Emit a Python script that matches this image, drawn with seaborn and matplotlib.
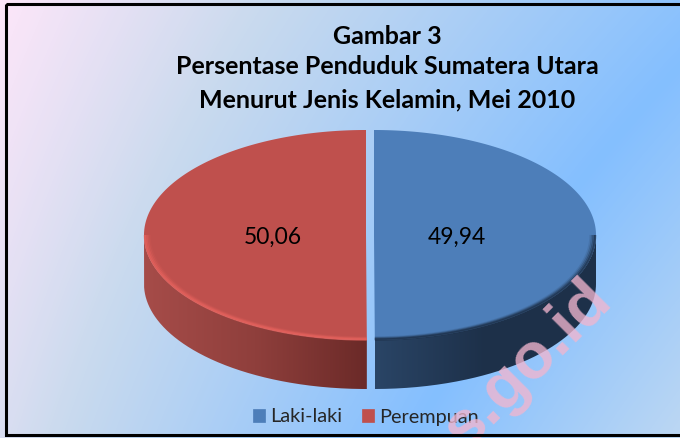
import numpy as np
import matplotlib
matplotlib.use('Agg')
import matplotlib.pyplot as plt
import seaborn as sns
from matplotlib.colors import LinearSegmentedColormap
from matplotlib.patches import Patch, PathPatch, Rectangle
from matplotlib.path import Path

# data
categories = ['Laki-laki', 'Perempuan']
shares = [49.94, 50.06]
title_lines = ['Gambar 3', 'Persentase Penduduk Sumatera Utara', 'Menurut Jenis Kelamin, Mei 2010']

sns.set_theme(style='white')
plt.rcParams['font.family'] = ['Lato', 'DejaVu Sans']

W, H = 680, 438
top_colors = ['#4d7eb9', '#bf504d']
wall_cmaps = [sns.blend_palette(['#2a4566', '#1d3049', '#1e314a'], as_cmap=True),
              sns.blend_palette(['#a64c49', '#8f3f3c', '#6b2a28'], as_cmap=True)]
centers = [374, 366]
cy, a, b, depth = 235, 222, 105, 49

fig = plt.figure(figsize=(W / 100, H / 100), dpi=100)
ax = fig.add_axes([0, 0, 1, 1])

# background gradient, pink corner -> blue band -> lighter corner
xx, yy = np.meshgrid(np.arange(W), np.arange(H))
t = 310 * xx + (128 + 132 * xx / 500) * yy
t = t / t.max()
bg = LinearSegmentedColormap.from_list('bg', [(0, '#fde6f9'), (0.237, '#c9daee'), (0.67, '#84bfff'), (1, '#bcd7f3')])
ax.imshow(t, cmap=bg, vmin=0, vmax=1, extent=[0, W, H, 0], aspect='auto', zorder=0)


def arc(cx, th, scale=1.0, dy=0):
    return cx + a * scale * np.sin(th), cy + dy - b * scale * np.cos(th)


ends = np.cumsum([0] + shares) / sum(shares) * 2 * np.pi
for i, val in enumerate(shares):
    cx = centers[i]
    th = np.linspace(ends[i], ends[i + 1], 300)

    # side wall, only the front part of the rim shows
    front = np.linspace(max(ends[i], np.pi / 2), min(ends[i + 1], 3 * np.pi / 2), 300)
    x1, y1 = arc(cx, front)
    x2, y2 = arc(cx, front[::-1], dy=depth)
    wall = PathPatch(Path(np.column_stack([np.r_[x1, x2], np.r_[y1, y2]])), fc='none', ec='none')
    ax.add_patch(wall)
    grad = np.linspace(0, 1, 256).reshape(1, -1)
    ax.imshow(grad, cmap=wall_cmaps[i], extent=[x1.min(), x1.max(), H, 0], aspect='auto',
              zorder=2, clip_path=wall)

    # top face
    x, y = arc(cx, th)
    ax.fill(np.r_[cx, x], np.r_[cy, y], color=top_colors[i], lw=0, zorder=3)

    # soft rim on the front edge
    rim = '#e5625d' if i == 1 else '#1d3049'
    for s, al in [(0.996, 0.75), (0.989, 0.5), (0.982, 0.28), (0.975, 0.12)]:
        xr, yr = arc(cx, front, scale=s)
        ax.plot(xr, yr, color=rim, alpha=al, lw=1.6, zorder=4, solid_capstyle='butt')

    # value label
    frac = 0.374 if i == 0 else 0.42
    mid = (ends[i] + ends[i + 1]) / 2
    ax.text(cx + a * frac * np.sin(mid), cy + 2, f'{val:.2f}'.replace('.', ','),
            ha='center', va='center', fontsize=16.5, color='black', zorder=5)

# title
for line, ypos in zip(title_lines, [36, 67, 100]):
    ax.text(387, ypos, line, ha='center', va='center', fontsize=18, fontweight='bold', color='black', zorder=6)

# legend
handles = [Patch(fc=c, ec=c, lw=0.5) for c in top_colors]
ax.legend(handles, categories, loc='center', bbox_to_anchor=(366 / W, 1 - 417 / H), ncol=2, frameon=False,
          fontsize=14.3, handlelength=0.58, handleheight=0.6, handletextpad=0.28, columnspacing=1.0,
          borderpad=0, borderaxespad=0)

# watermark, runs off the lower edge
ax.text(528, 365, 's.go.id', rotation=45, rotation_mode='anchor', ha='center', va='center',
        fontsize=47, fontweight='bold', family='Liberation Sans', color='#f2b6cf', alpha=0.78, zorder=7)

# frame, open on the right
ax.add_patch(Rectangle((6, 4), 700, 431, fc='none', ec='black', lw=2.2, zorder=8))

ax.set_xlim(0, W)
ax.set_ylim(H, 0)
ax.axis('off')
fig.savefig('out.png', dpi=100)
